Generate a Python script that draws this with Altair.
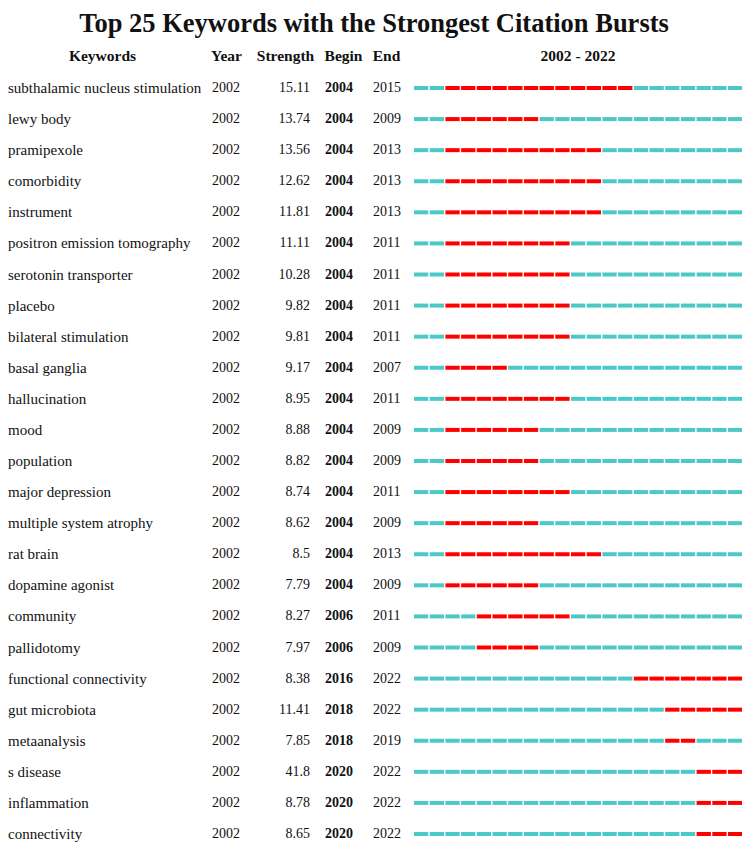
import altair as alt
import pandas as pd

title_text = "Top 25 Keywords with the Strongest Citation Bursts"
keywords = [
    "subthalamic nucleus stimulation", "lewy body", "pramipexole", "comorbidity",
    "instrument", "positron emission tomography", "serotonin transporter", "placebo",
    "bilateral stimulation", "basal ganglia", "hallucination", "mood", "population",
    "major depression", "multiple system atrophy", "rat brain", "dopamine agonist",
    "community", "pallidotomy", "functional connectivity", "gut microbiota",
    "metaanalysis", "s disease", "inflammation", "connectivity",
]
year = [2002] * 25
strength = ["15.11", "13.74", "13.56", "12.62", "11.81", "11.11", "10.28", "9.82",
            "9.81", "9.17", "8.95", "8.88", "8.82", "8.74", "8.62", "8.5", "7.79",
            "8.27", "7.97", "8.38", "11.41", "7.85", "41.8", "8.78", "8.65"]
begin = [2004] * 17 + [2006, 2006, 2016, 2018, 2018, 2020, 2020, 2020]
end = [2015, 2009, 2013, 2013, 2013, 2011, 2011, 2011, 2011, 2007, 2011, 2009, 2009,
       2011, 2009, 2013, 2009, 2011, 2009, 2022, 2022, 2019, 2022, 2022, 2022]
first_year, last_year = 2002, 2022
headers = ["Keywords", "Year", "Strength", "Begin", "End", "2002 - 2022"]
header_x = [94.5, 218.5, 277.5, 335.5, 378.5, 570]

FONT = "Liberation Serif"
rows = pd.DataFrame({
    "row": list(range(len(keywords))),
    "keyword": keywords,
    "year": [str(y) for y in year],
    "strength": strength,
    "begin": [str(b) for b in begin],
    "end": [str(e) for e in end],
})

seg_records = []
for i, (b, e) in enumerate(zip(begin, end)):
    for y in range(first_year, last_year + 1):
        seg_records.append({
            "row": i,
            "start": y,
            "stop": y + 0.91,
            "state": "burst" if b <= y <= e else "none",
        })
segs = pd.DataFrame(seg_records)

yenc = alt.Y("row:Q", scale=alt.Scale(domain=[0, 24], range=[80, 826]), axis=None)

bars = alt.Chart(segs).mark_rule(strokeWidth=4, strokeCap="butt").encode(
    x=alt.X("start:Q", scale=alt.Scale(domain=[first_year, last_year + 1], range=[406, 735.7]), axis=None),
    x2="stop:Q",
    y=yenc,
    color=alt.Color("state:N", scale=alt.Scale(domain=["burst", "none"], range=["#FF0000", "#4BC8C8"]), legend=None),
)

def col(field, x, align, bold=False, size=14):
    return alt.Chart(rows).mark_text(
        font=FONT, fontSize=size, align=align, baseline="middle",
        fontWeight="bold" if bold else "normal", color="#111111",
    ).encode(x=alt.value(x), y=yenc, text=f"{field}:N")

kw = col("keyword", 0, "left", size=15)
yr = col("year", 204, "left")
st = col("strength", 302, "right")
bg = col("begin", 317, "left", bold=True)
en = col("end", 365, "left")

hdr_df = pd.DataFrame({"h": headers, "x": header_x})
hdr = alt.Chart(hdr_df).mark_text(
    font=FONT, fontSize=15.5, fontWeight="bold", align="center", baseline="middle", color="#111111"
).encode(x=alt.X("x:Q", scale=None), y=alt.value(48), text="h:N")

ttl = alt.Chart(pd.DataFrame({"t": [title_text]})).mark_text(
    font=FONT, fontSize=26.5, fontWeight="bold", align="center", baseline="top", color="#111111"
).encode(x=alt.value(366), y=alt.value(3), text="t:N")

chart = alt.layer(bars, kw, yr, st, bg, en, hdr, ttl).properties(
    width=734, height=836, padding=0, autosize=alt.AutoSizeParams(type="none")
).configure_view(stroke=None).resolve_scale(x="independent")

chart.save("out.html", embed_options={"renderer": "svg", "actions": False})
